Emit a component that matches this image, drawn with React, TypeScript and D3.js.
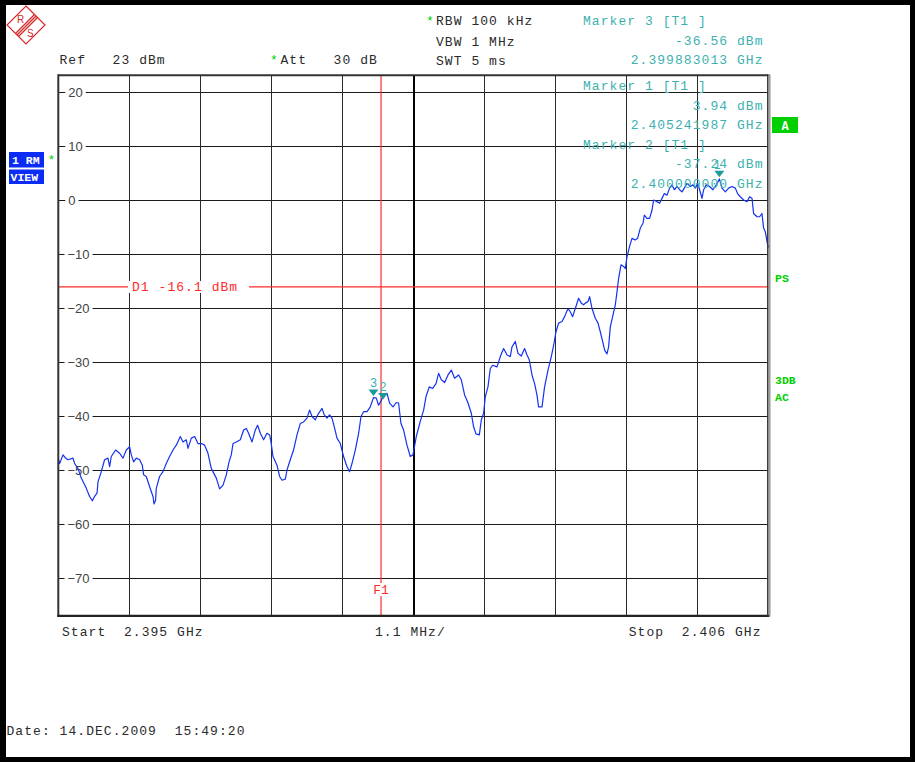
import React from 'react';
import * as d3 from 'd3';

// ---------- data ----------
const START_GHZ = 2.395;
const STOP_GHZ = 2.406;
const REF_DBM = 23;
const RANGE_DB = 100;
const yTicks = [20, 10, 0, -10, -20, -30, -40, -50, -60, -70];
const xDivisions = [0, 1, 2, 3, 4, 5, 6, 7, 8, 9, 10];
const SPAN_PER_DIV_MHZ = 1.1;

// trace: frequency offset from start (MHz) and level (dBm)
const traceOffsetMHz = [
  0.000, 0.020, 0.073, 0.113, 0.150, 0.228, 0.253, 0.305, 0.356, 0.434, 0.485, 0.527, 0.562, 0.600, 0.615, 0.666,
  0.717, 0.770, 0.795, 0.821, 0.888, 0.950, 1.002, 1.054, 1.105, 1.131, 1.167, 1.208, 1.260, 1.301, 1.322, 1.363,
  1.415, 1.467, 1.483, 1.507, 1.518, 1.569, 1.622, 1.673, 1.724, 1.777, 1.828, 1.890, 1.932, 1.983, 2.009, 2.061,
  2.112, 2.164, 2.216, 2.267, 2.319, 2.370, 2.448, 2.499, 2.552, 2.603, 2.645, 2.680, 2.707, 2.758, 2.820, 2.871,
  2.913, 2.948, 3.001, 3.052, 3.088, 3.130, 3.181, 3.233, 3.274, 3.295, 3.326, 3.388, 3.429, 3.466, 3.517, 3.543,
  3.594, 3.645, 3.698, 3.749, 3.800, 3.853, 3.893, 3.931, 3.982, 4.033, 4.086, 4.121, 4.163, 4.203, 4.240, 4.276,
  4.318, 4.369, 4.420, 4.473, 4.513, 4.550, 4.601, 4.653, 4.690, 4.730, 4.783, 4.834, 4.883, 4.927, 4.962, 5.000,
  5.031, 5.093, 5.133, 5.186, 5.237, 5.272, 5.309, 5.350, 5.402, 5.454, 5.495, 5.546, 5.608, 5.660, 5.697, 5.748,
  5.799, 5.852, 5.892, 5.934, 5.985, 6.038, 6.089, 6.140, 6.202, 6.244, 6.295, 6.348, 6.399, 6.434, 6.471, 6.523,
  6.554, 6.589, 6.616, 6.657, 6.693, 6.729, 6.797, 6.848, 6.899, 6.952, 7.003, 7.029, 7.080, 7.122, 7.173, 7.224,
  7.262, 7.297, 7.339, 7.379, 7.416, 7.441, 7.494, 7.534, 7.587, 7.638, 7.674, 7.711, 7.751, 7.804, 7.844, 7.897,
  7.932, 7.968, 8.010, 8.061, 8.103, 8.138, 8.165, 8.207, 8.232, 8.269, 8.320, 8.362, 8.397, 8.433, 8.464, 8.501,
  8.526, 8.552, 8.588, 8.630, 8.656, 8.681, 8.718, 8.758, 8.785, 8.811, 8.851, 8.888, 8.939, 8.975, 9.017, 9.059,
  9.079, 9.121, 9.161, 9.198, 9.223, 9.276, 9.316, 9.353, 9.389, 9.431, 9.471, 9.508, 9.544, 9.586, 9.626, 9.663,
  9.699, 9.740, 9.792, 9.833, 9.869, 9.905, 9.936, 9.973, 9.998, 10.040, 10.091, 10.143, 10.195, 10.242, 10.283, 10.334,
  10.385, 10.438, 10.489, 10.524, 10.566, 10.618, 10.670, 10.711, 10.748, 10.772, 10.825, 10.865, 10.902, 10.927, 10.954, 10.989,
  11.000,
];
const traceLevelDbm = [
  -48.0, -48.8, -47.2, -47.8, -48.1, -47.8, -48.8, -49.7, -51.5, -53.4, -54.9, -55.7, -54.9, -54.3, -52.2, -50.3,
  -48.1, -47.8, -49.4, -47.5, -46.3, -46.9, -47.8, -46.3, -45.7, -47.2, -48.5, -47.8, -48.1, -49.1, -50.9, -51.2,
  -53.1, -54.9, -56.3, -55.6, -53.4, -51.2, -50.3, -48.8, -47.5, -46.3, -45.4, -43.8, -44.8, -44.4, -46.0, -44.1,
  -43.8, -45.1, -45.1, -45.4, -46.9, -49.7, -51.5, -53.5, -52.8, -50.9, -48.5, -47.2, -45.1, -44.8, -44.4, -42.6,
  -42.3, -43.2, -44.8, -42.6, -41.7, -43.2, -44.4, -43.2, -43.5, -44.8, -47.5, -49.1, -51.2, -51.9, -51.7, -50.0,
  -48.1, -46.3, -43.5, -41.4, -41.1, -40.4, -38.9, -40.1, -40.7, -39.5, -38.6, -39.8, -40.4, -39.8, -40.4, -42.0,
  -44.1, -45.1, -47.5, -49.4, -50.3, -48.8, -46.3, -43.2, -40.1, -39.2, -39.2, -38.3, -36.6, -36.7, -38.0, -37.2,
  -36.4, -35.8, -37.6, -38.3, -37.5, -37.6, -41.4, -42.6, -45.4, -47.5, -47.2, -43.8, -41.0, -38.9, -36.4, -34.6,
  -34.9, -34.0, -32.1, -33.3, -33.8, -32.4, -31.5, -33.0, -32.4, -33.3, -36.1, -37.6, -39.5, -42.0, -43.3, -43.5,
  -40.7, -39.5, -36.4, -34.6, -31.2, -30.6, -30.9, -29.0, -27.5, -28.7, -29.0, -27.2, -26.2, -28.4, -28.9, -27.5,
  -28.7, -29.6, -32.4, -34.0, -36.1, -38.3, -38.3, -34.6, -31.5, -29.0, -26.9, -24.4, -22.8, -22.5, -21.6, -20.1,
  -20.7, -21.6, -20.1, -18.2, -19.1, -19.4, -19.1, -18.8, -17.9, -20.1, -21.9, -22.8, -24.4, -26.2, -27.8, -28.5,
  -27.2, -23.5, -21.6, -19.4, -17.0, -14.5, -12.0, -12.3, -12.7, -10.5, -8.6, -7.1, -7.4, -7.1, -5.2, -4.3,
  -2.8, -3.4, -3.4, -1.9, 0.0, -0.3, -0.6, 0.3, 1.2, 0.9, 2.2, 2.8, 1.9, 2.5, 1.9, 1.5,
  2.2, 3.1, 2.5, 2.8, 2.2, 3.1, 1.9, 0.3, 1.9, 2.8, 2.5, 1.9, 2.8, 3.9, 2.2, 1.5,
  2.2, 2.5, 2.2, 1.2, 0.6, 0.0, -0.3, 0.6, 0.3, -2.5, -3.1, -3.1, -2.5, -5.2, -5.9, -8.3,
  -8.8,
];

const markerIds = [3, 2, 1];
const markerFreqGHz = [2.399883013, 2.4, 2.405241987];
const markerLevelDbm = [-36.56, -37.24, 3.94];
const markerPanelOrder = [3, 1, 2];
const displayLineDbm = -16.1;
const f1GHz = 2.4;

// ---------- layout ----------
const W = 915;
const H = 762;
const PL = 58.3;
const PR = 768.3;
const PT = 75.8;
const PB = 615.8;

const MONO = "'Liberation Mono', 'DejaVu Sans Mono', monospace";
const SANS = "'Liberation Sans', Arial, sans-serif";
const TEAL = '#3cb1b0';
const GREEN = '#00d000';
const RED = '#ff2a2a';
const TXT = '#2a2a2a';
const LS = 1.05;
const PRE = { whiteSpace: 'pre' as const };

const fmtLevel = (v: number) => `${v.toFixed(2)} dBm`;
const fmtFreq = (v: number) => `${v.toFixed(9)} GHz`;
const fmtTick = (v: number) => (v < 0 ? `\u2212${Math.abs(v)}` : `${v}`);

export default function App() {
  const x = d3.scaleLinear().domain([START_GHZ, STOP_GHZ]).range([PL, PR]);
  const y = d3.scaleLinear().domain([REF_DBM - RANGE_DB, REF_DBM]).range([PB, PT]);
  const pts: [number, number][] = traceOffsetMHz.map((o, i) => [START_GHZ + o / 1000, traceLevelDbm[i]]);
  const line = d3
    .line<[number, number]>()
    .x((d) => x(d[0]))
    .y((d) => y(d[1]));
  const divX = (k: number) => x(START_GHZ + (k * SPAN_PER_DIV_MHZ) / 1000);

  const monoText = (props: any, s: string) => (
    <text fontFamily={MONO} fontSize={13} letterSpacing={LS} fill={TXT} style={PRE} {...props}>
      {s}
    </text>
  );

  const panelRows = markerPanelOrder.map((id, k) => {
    const i = markerIds.indexOf(id);
    const base = k === 0 ? 25 : k === 1 ? 90 : 148.5;
    return (
      <g key={id}>
        {monoText({ x: 583, y: base, fill: TEAL }, `Marker ${id} [T1 ]`)}
        {monoText({ x: 763.5, y: base + 19.7, fill: TEAL, textAnchor: 'end' }, fmtLevel(markerLevelDbm[i]))}
        {monoText({ x: 763.5, y: base + 39, fill: TEAL, textAnchor: 'end' }, fmtFreq(markerFreqGHz[i]))}
      </g>
    );
  });

  const d1y = y(displayLineDbm);
  const f1x = x(f1GHz);

  return (
    <svg
      width={W}
      height={H}
      style={{ position: 'absolute', left: 0, top: 0, background: '#fff' }}
      xmlns="http://www.w3.org/2000/svg"
    >
      {/* outer black border */}
      <rect x={0} y={0} width={W} height={H} fill="#000" />
      <rect x={6} y={5} width={904} height={752} fill="#fff" />

      {/* R&S logo */}
      <g stroke="#d42a2a" fill="none" strokeWidth={1.2}>
        <path d="M26,6 L45,25 L26,44 L7,25 Z" />
        <path d="M34.5,14.5 L15.5,33.5" />
        <path d="M36,16 L17,35" />
        <path d="M37.5,17.5 L18.5,36.5" />
        <text x={17} y={23} fill="#d42a2a" stroke="none" fontFamily={SANS} fontSize={10}>
          R
        </text>
        <text x={27} y={37} fill="#d42a2a" stroke="none" fontFamily={SANS} fontSize={10}>
          S
        </text>
      </g>

      {/* header */}
      {monoText({ x: 59.5, y: 64 }, 'Ref   23 dBm')}
      <text x={270} y={64} fill={GREEN} fontFamily={MONO} fontSize={13}>
        *
      </text>
      {monoText({ x: 280.5, y: 64 }, 'Att   30 dB')}
      <text x={426} y={25} fill={GREEN} fontFamily={MONO} fontSize={13}>
        *
      </text>
      {monoText({ x: 436, y: 24.5 }, 'RBW 100 kHz')}
      {monoText({ x: 436, y: 45.5 }, 'VBW 1 MHz')}
      {monoText({ x: 436, y: 64.5 }, 'SWT 5 ms')}

      {/* left badges */}
      <rect x={9} y={152} width={35} height={15.5} fill="#0a2cf5" />
      <text x={12} y={164} fill="#fff" fontFamily={MONO} fontWeight="bold" fontSize={11.5} style={PRE}>
        1 RM
      </text>
      <rect x={9} y={169.5} width={35} height={14.5} fill="#0a2cf5" />
      <text x={10.5} y={181} fill="#fff" fontFamily={MONO} fontWeight="bold" fontSize={11.5}>
        VIEW
      </text>
      <text x={47.5} y={164} fill={GREEN} fontFamily={MONO} fontSize={13}>
        *
      </text>

      {/* grid */}
      <g shapeRendering="crispEdges">
        {yTicks.map((t) => (
          <line key={`h${t}`} x1={PL} x2={PR} y1={Math.round(y(t)) + 0.5} y2={Math.round(y(t)) + 0.5} stroke="#1a1a1a" strokeWidth={1} />
        ))}
        {xDivisions.slice(1, -1).map((k) => (
          <line
            key={`v${k}`}
            x1={Math.round(divX(k)) + 0.5}
            x2={Math.round(divX(k)) + 0.5}
            y1={PT}
            y2={PB}
            stroke={k === 5 ? '#000' : '#2a2a2a'}
            strokeWidth={k === 5 ? 2 : 1}
          />
        ))}
      </g>

      {/* y tick labels with white backgrounds */}
      {yTicks.map((t) => {
        const s = fmtTick(t);
        const w = t < 0 ? 7.6 + String(Math.abs(t)).length * 7.23 : String(t).length * 7.23;
        const tx = t < 0 ? 67.5 : 68.3;
        return (
          <g key={`yl${t}`}>
            <rect x={tx - 3} y={y(t) - 5} width={w + 6} height={10} fill="#fff" />
            <text x={tx} y={y(t) + 4.7} fill="#444" fontFamily={SANS} fontSize={13}>
              {s}
            </text>
          </g>
        );
      })}

      {/* D1 display line */}
      <line x1={PL} x2={PR} y1={d1y} y2={d1y} stroke={RED} strokeWidth={1.2} />
      <rect x={128} y={d1y - 6} width={121} height={12} fill="#fff" />
      <text x={132} y={d1y + 4.5} fill={RED} fontFamily={MONO} fontSize={13} letterSpacing={LS} style={PRE}>
        D1 -16.1 dBm
      </text>

      {/* F1 frequency line */}
      <line x1={f1x} x2={f1x} y1={PT} y2={PB} stroke={RED} strokeWidth={1.2} />
      <rect x={f1x - 9} y={583} width={18} height={13} fill="#fff" />
      <text x={f1x} y={594} textAnchor="middle" fill={RED} fontFamily={MONO} fontSize={13}>
        F1
      </text>

      {/* trace */}
      <path d={line(pts) || ''} fill="none" stroke="#1432f0" strokeWidth={1.2} strokeLinejoin="round" />

      {/* markers */}
      {markerIds.map((id, i) => {
        const mx = x(markerFreqGHz[i]);
        const my = y(markerLevelDbm[i]);
        const dx = id === 2 ? 2 : 0;
        return (
          <g key={`m${id}`}>
            <path d={`M${mx + dx - 5},${my - 8} L${mx + dx + 5},${my - 8} L${mx + dx},${my - 1.5} Z`} fill="#1a9a9a" />
            <text x={mx + dx - (id === 1 ? 2 : 0)} y={my - 10} textAnchor="middle" fill={TEAL} fontFamily={SANS} fontSize={12}>
              {id}
            </text>
          </g>
        );
      })}

      {/* plot frame */}
      <line x1={PL} x2={PR} y1={PT - 0.5} y2={PT - 0.5} stroke="#333" strokeWidth={2} />
      <line x1={PL} x2={PL} y1={PT - 1.5} y2={PB + 1} stroke="#333" strokeWidth={2} />
      <line x1={PL - 1} x2={PR + 1} y1={PB} y2={PB} stroke="#222" strokeWidth={2.2} />
      <line x1={PR - 0.5} x2={PR - 0.5} y1={PT - 1.5} y2={PB + 1} stroke="#333" strokeWidth={1.5} />
      <line x1={PR + 1.5} x2={PR + 1.5} y1={PT - 1.5} y2={PB + 1} stroke="#999" strokeWidth={1.5} />

      {/* marker readout panel (drawn over the grid) */}
      {panelRows}

      {/* right annotations */}
      <rect x={772} y={117} width={26} height={16} fill={GREEN} />
      <text x={785} y={129.5} textAnchor="middle" fill="#fff" fontFamily={MONO} fontWeight="bold" fontSize={12}>
        A
      </text>
      <text x={775} y={282} fill={GREEN} fontFamily={MONO} fontWeight="bold" fontSize={11.5}>
        PS
      </text>
      <text x={775} y={384} fill={GREEN} fontFamily={MONO} fontWeight="bold" fontSize={11.5}>
        3DB
      </text>
      <text x={775} y={401} fill={GREEN} fontFamily={MONO} fontWeight="bold" fontSize={11.5}>
        AC
      </text>

      {/* bottom annotations */}
      {monoText({ x: 62, y: 636 }, `Start  ${START_GHZ.toFixed(3)} GHz`)}
      {monoText({ x: 375, y: 636 }, `${SPAN_PER_DIV_MHZ} MHz/`)}
      {monoText({ x: 761.5, y: 636, textAnchor: 'end' }, `Stop  ${STOP_GHZ.toFixed(3)} GHz`)}
      {monoText({ x: 6.5, y: 735 }, 'Date: 14.DEC.2009  15:49:20')}
    </svg>
  );
}
